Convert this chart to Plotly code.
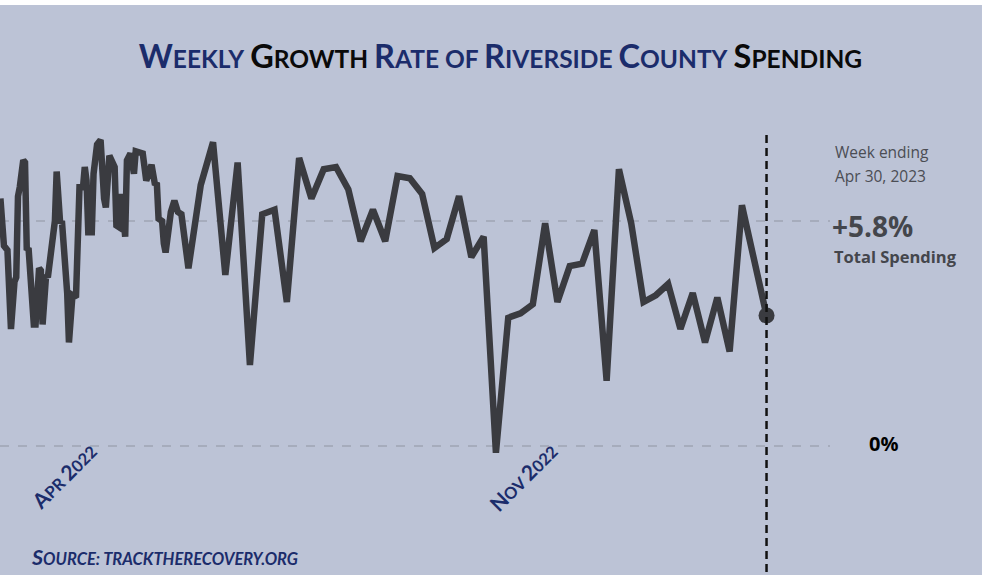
import numpy as np
import plotly.graph_objects as go

# ---------------- data ----------------
# dense early segment: days relative to the first weekly point, growth rate (%)
dense_days = [-107, -105, -103, -101, -99, -98, -97, -96, -94, -93, -92, -91, -88, -87,
              -85, -84, -83, -81, -80, -77, -76, -75, -73, -72, -69, -68, -66, -64,
              -62, -60, -59, -58, -57, -55, -54, -52, -50, -48, -47, -45, -44, -42,
              -41, -39, -38, -36, -35, -33, -31, -30, -26, -24, -23, -21, -19, -18,
              -17, -15, -14, -13, -12, -10, -8, -6, -4]
dense_values = [11.0, 8.9, 8.7, 5.2, 7.3, 7.5, 11.1, 11.5, 12.7, 12.6, 8.7, 8.8, 5.4, 5.4,
                7.9, 7.8, 5.4, 7.6, 7.5, 9.8, 10.0, 12.2, 9.9, 10.0, 6.8, 4.6, 6.7, 6.6,
                11.5, 11.5, 12.4, 11.8, 9.5, 9.5, 12.1, 13.4, 13.6, 11.0, 10.6, 12.9, 12.7, 12.4,
                9.8, 9.7, 11.2, 9.3, 12.7, 13.0, 12.1, 13.1, 13.0, 11.8, 12.0, 12.5, 11.6, 11.7,
                10.1, 10.0, 9.0, 8.6, 9.2, 10.4, 10.9, 10.4, 10.3]
# weekly segment, ending week of Apr 30, 2023
weekly_values = [7.9, 11.6, 13.5, 7.6, 12.6, 3.6, 10.3, 10.5, 6.4, 12.8,
                 11.0, 12.3, 12.4, 11.4, 9.1, 10.5, 9.1, 12.0, 11.9, 11.2,
                 8.8, 9.2, 11.1, 8.4, 9.3, -0.3, 5.7, 5.9, 6.3, 9.9,
                 6.4, 8.0, 8.1, 9.6, 2.9, 12.3, 9.9, 6.4, 6.7, 7.2,
                 5.2, 6.8, 4.6, 6.6, 4.2, 10.7, 8.3, 5.8]
tick_labels = ["Apr 2022", "Nov 2022"]
tick_weeks = [-7.8, 29.65]
last_label = "Apr 30, 2023"

# ---------------- build ----------------
x_dense = np.array(dense_days) / 7.0
x_week = np.arange(len(weekly_values), dtype=float)
x_all = np.concatenate([x_dense, x_week])
y_all = list(dense_values) + list(weekly_values)
x_last = x_week[-1]
y_last = weekly_values[-1]

NAVY = "#1b2c6b"
LINE = "#3a3b40"
BG = "#bcc3d6"


def small_caps(text, big, small, color, lower_words=("of",)):
    out = []
    for word in text.split(" "):
        if not word:
            continue
        if word.lower() in lower_words:
            out.append(f"<span style='font-size:{small}px;color:{color}'>{word.upper()}</span>")
            continue
        first, rest = word[0], word[1:]
        s = f"<span style='font-size:{big}px;color:{color}'>{first.upper()}</span>"
        if rest:
            s += f"<span style='font-size:{small}px;color:{color}'>{rest.upper()}</span>"
        out.append(s)
    return f"<span style='font-size:{small}px'> </span>".join(out)


title_parts = [("Weekly", NAVY), ("Growth", "#0a0a0a"), ("Rate of Riverside County", NAVY),
               ("Spending", "#0a0a0a")]
title_html = "<span style='font-size:25px'> </span>".join(
    small_caps(t, 32.5, 24.5, c) for t, c in title_parts)

tick_html = ["<b>" + small_caps(t, 21, 16.5, NAVY) + "</b>" for t in tick_labels]

fig = go.Figure()
fig.add_trace(go.Scatter(x=x_all, y=y_all, mode="lines",
                         line=dict(color=LINE, width=6.5), hoverinfo="skip"))
fig.add_trace(go.Scatter(x=[x_last], y=[y_last], mode="markers",
                         marker=dict(color=LINE, size=16), hoverinfo="skip"))

# vertical dashed marker line at the latest week
fig.add_shape(type="line", xref="x", yref="paper", x0=x_last, x1=x_last,
              y0=0.9054, y1=-0.29, line=dict(color="#111111", width=2.5, dash="8px,5px"))

# white frame edges of the screenshot
fig.add_shape(type="rect", xref="paper", yref="paper", x0=-0.01, x1=1.19, y0=1.2568, y1=1.29,
              line=dict(width=0), fillcolor="white", layer="above")
fig.add_shape(type="rect", xref="paper", yref="paper", x0=1.1831, x1=1.19, y0=-0.3, y1=1.29,
              line=dict(width=0), fillcolor="white", layer="above")

ann_font = "Open Sans"
annotations = [
    dict(text="Week ending", x=1.0036, y=13.07, xanchor="left", yanchor="middle",
         font=dict(family=ann_font, size=15.5, color="#4b4d54")),
    dict(text=last_label, x=1.0036, y=12.02, xanchor="left", yanchor="middle",
         font=dict(family=ann_font, size=15.5, color="#4b4d54")),
    dict(text=f"<b>+{y_last}%</b>", x=1.0, y=9.8, xanchor="left", yanchor="middle",
         font=dict(family=ann_font, size=28, color="#44464c")),
    dict(text="<b>Total Spending</b>", x=1.0024, y=8.42, xanchor="left", yanchor="middle",
         font=dict(family=ann_font, size=16.5, color="#44464c")),
    dict(text="<b>0%</b>", x=1.0639, y=0.09, xanchor="center", yanchor="middle",
         font=dict(family=ann_font, size=20, color="#000000")),
]
for a in annotations:
    a.update(xref="paper", yref="y", showarrow=False)
fig.add_annotation(text="<b><i>" + small_caps("Source:", 21.5, 16.5, NAVY) + " "
                   + f"<span style='font-size:16.5px;color:{NAVY}'>TRACKTHERECOVERY.ORG</span></i></b>",
                   xref="paper", yref="paper", x=0.035, y=-0.235, xanchor="left",
                   yanchor="middle", showarrow=False, font=dict(family="Lato", size=16.5, color=NAVY))
for a in annotations:
    fig.add_annotation(**a)

fig.update_layout(
    width=985, height=575,
    margin=dict(l=0, r=155, t=100, b=105),
    paper_bgcolor=BG, plot_bgcolor=BG,
    showlegend=False,
    title=dict(text="<b>" + title_html + "</b>", x=0.508, xanchor="center", y=0.897,
               yanchor="middle", yref="container",
               font=dict(family="Lato", size=24, color=NAVY)),
    xaxis=dict(range=[-15.32, 52.16], tickvals=tick_weeks, ticktext=tick_html,
               tickangle=-45, showgrid=False, zeroline=False, showline=False,
               ticks="", anchor="free", position=0.0865,
               tickfont=dict(family="Lato", size=16.5, color=NAVY)),
    yaxis=dict(range=[-1.0667, 15.378], tickvals=[0, 10], showticklabels=False,
               showgrid=True, gridcolor="#a6acbc", gridwidth=1.5, griddash="dash",
               zeroline=False, showline=False, ticks=""),
)

fig.write_html("out.html", config={"displayModeBar": False},
               post_script="document.body.style.margin='0';document.body.style.overflow='hidden';")
